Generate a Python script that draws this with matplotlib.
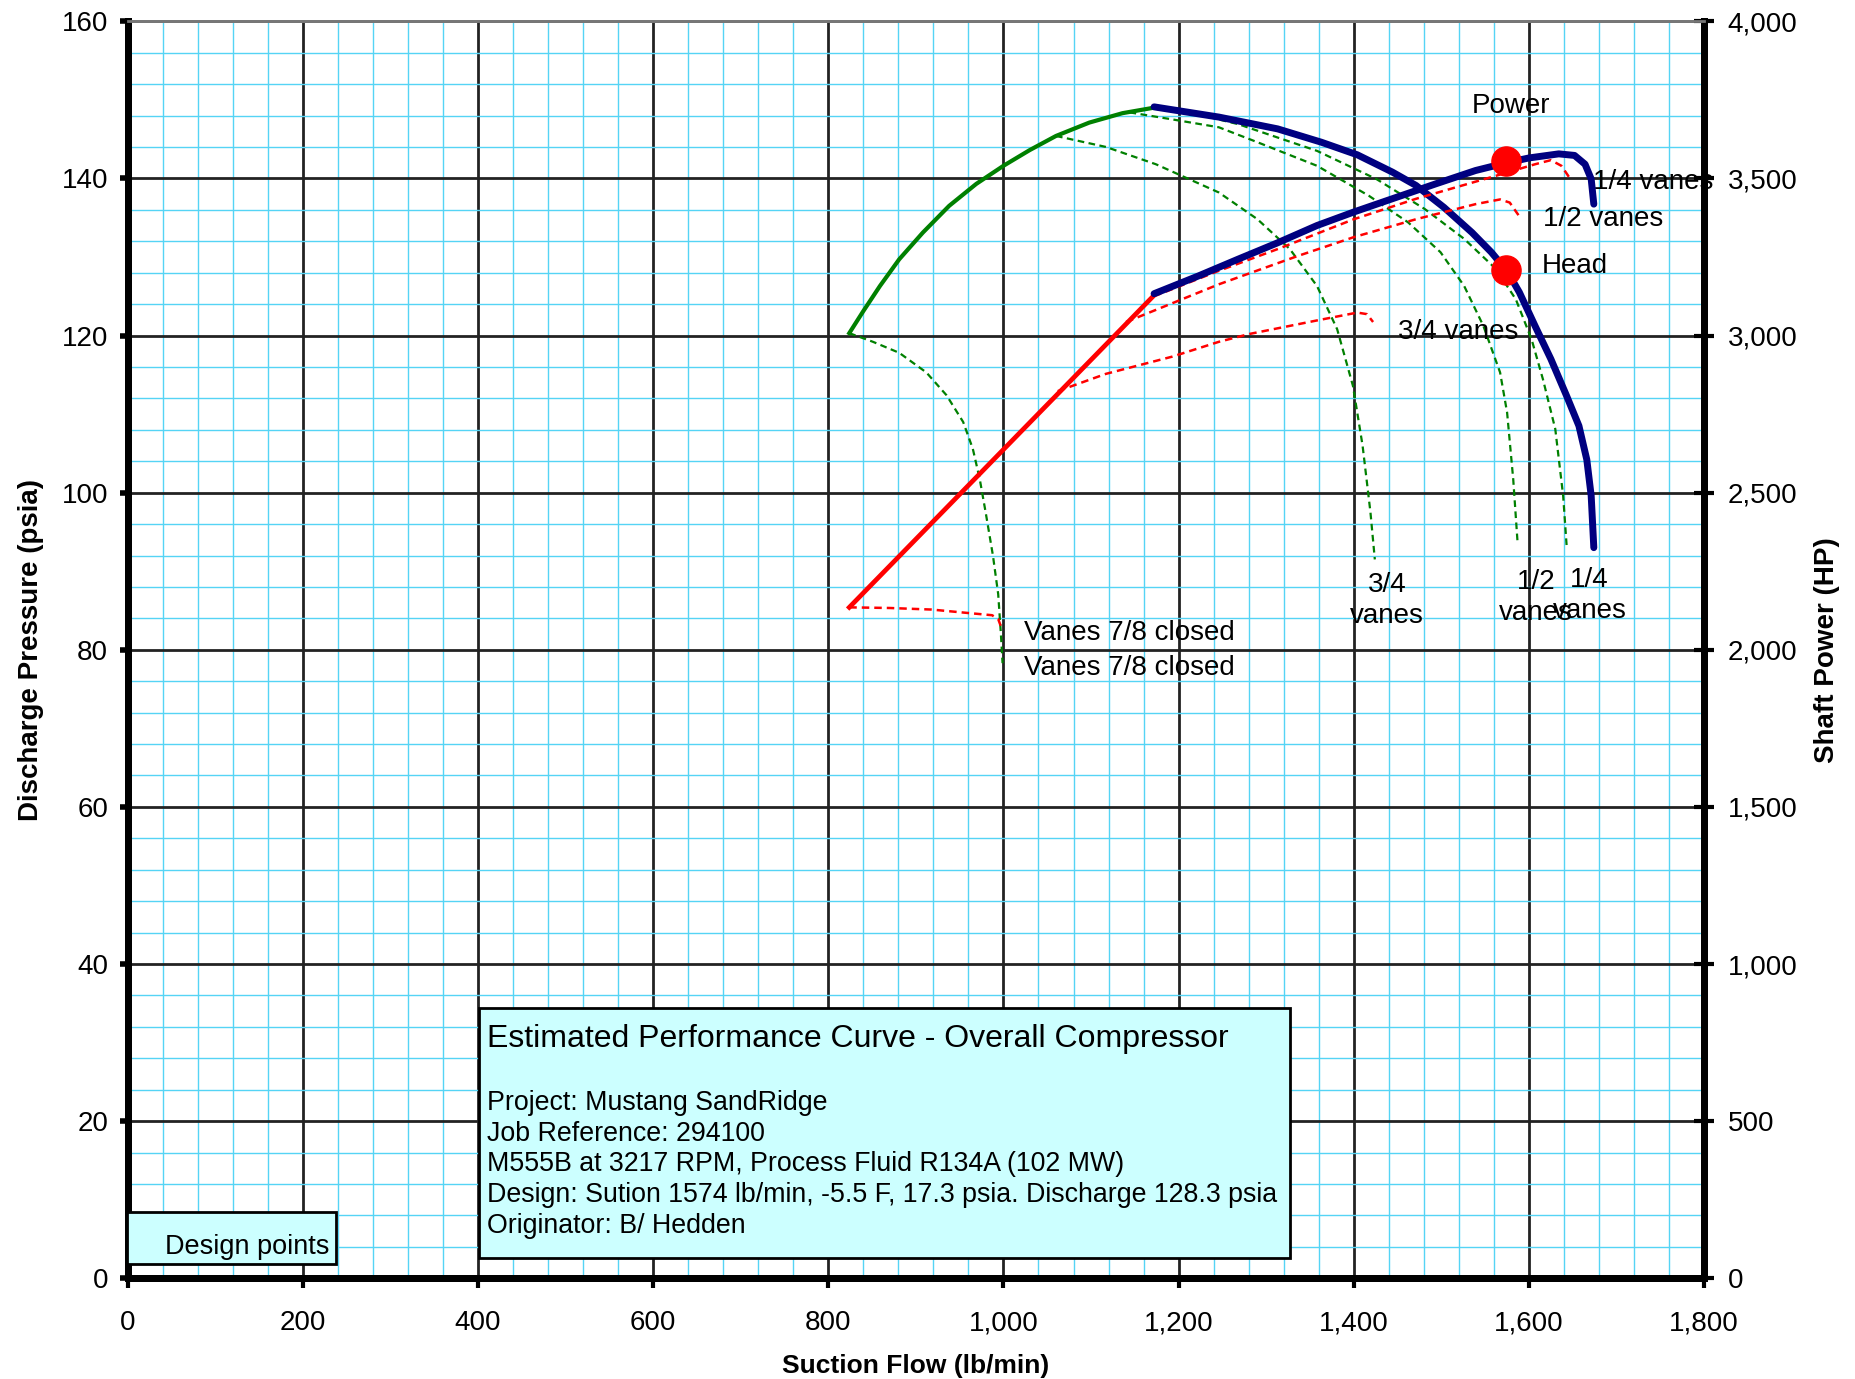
import matplotlib
matplotlib.use("Agg")
import matplotlib.pyplot as plt
from matplotlib.ticker import MultipleLocator, FuncFormatter
from matplotlib.patches import Rectangle

plt.rcParams['font.family'] = ['Liberation Sans', 'DejaVu Sans']

# head curves (left axis, psia)
head_x = [1172, 1246, 1313, 1363, 1404, 1444, 1471, 1503, 1535, 1557, 1575, 1589,
          1607, 1625, 1643, 1657, 1666, 1671, 1674]
head_y = [149.1, 147.8, 146.3, 144.6, 143.0, 140.8, 139.1, 136.3, 133.1, 130.6, 128.2, 125.5,
          121.2, 117.0, 112.3, 108.5, 104.2, 99.6, 93.0]

surge_x = [824, 840, 859, 881, 908, 938, 969, 1000, 1030, 1060, 1098, 1136, 1172]
surge_y = [120.3, 123.1, 126.3, 129.7, 133.1, 136.5, 139.3, 141.6, 143.6, 145.4, 147.1, 148.3, 149.0]

vane78_head_x = [824, 851, 881, 912, 935, 954, 965, 973, 980, 988, 994, 997, 999]
vane78_head_y = [120.3, 119.2, 117.8, 115.3, 112.4, 109.0, 105.6, 101.7, 97.3, 92.0, 87.1, 82.2, 78.3]
vane34_head_x = [1060, 1117, 1174, 1212, 1246, 1290, 1327, 1358, 1381, 1399, 1410, 1419, 1424]
vane34_head_y = [145.4, 144.0, 141.8, 139.9, 138.2, 134.8, 131.0, 126.3, 120.8, 113.6, 106.0, 97.5, 91.5]
vane12_head_x = [1144, 1193, 1246, 1290, 1358, 1417, 1462, 1499, 1526, 1548, 1567, 1575, 1582, 1587]
vane12_head_y = [148.4, 147.5, 146.5, 144.6, 141.6, 137.8, 134.4, 130.6, 126.3, 121.2, 115.3, 110.2, 101.7, 93.6]
vane14_head_x = [1172, 1231, 1268, 1358, 1426, 1481, 1526, 1562, 1585, 1603, 1616, 1630, 1639, 1643]
vane14_head_y = [148.9, 147.9, 146.9, 143.5, 139.9, 136.1, 132.3, 128.5, 124.6, 119.5, 114.4, 108.1, 99.6, 93.2]

# power curves (right axis, HP)
power_x = [1172, 1223, 1268, 1313, 1358, 1400, 1449, 1494, 1539, 1575, 1600, 1634, 1652, 1664, 1671, 1674]
power_y = [3133, 3190, 3243, 3295, 3350, 3393, 3440, 3483, 3525, 3550, 3565, 3578, 3573, 3545, 3498, 3418]

power_surge_x = [824, 1172]
power_surge_y = [2135, 3128]

vane78_pow_x = [824, 870, 918, 956, 987, 994, 997]
vane78_pow_y = [2135, 2133, 2128, 2118, 2110, 2098, 2075]
vane34_pow_x = [1062, 1117, 1193, 1246, 1281, 1358, 1404, 1415, 1422]
vane34_pow_y = [2823, 2878, 2933, 2980, 3005, 3048, 3073, 3068, 3043]
vane12_pow_x = [1140, 1193, 1246, 1268, 1336, 1400, 1471, 1539, 1567, 1578, 1588]
vane12_pow_y = [3043, 3103, 3163, 3185, 3253, 3313, 3370, 3418, 3433, 3423, 3383]
vane14_pow_x = [1172, 1245, 1313, 1400, 1471, 1562, 1607, 1625, 1637, 1646]
vane14_pow_y = [3125, 3205, 3275, 3370, 3435, 3508, 3545, 3558, 3540, 3503]

design_flow = 1574
design_head = 128.3
design_power = 3555

info_title = "Estimated Performance Curve - Overall Compressor"
info_lines = ["Project: Mustang SandRidge",
              "Job Reference: 294100",
              "M555B at 3217 RPM, Process Fluid R134A (102 MW)",
              "Design: Sution 1574 lb/min, -5.5 F, 17.3 psia. Discharge 128.3 psia",
              "Originator: B/ Hedden"]

fig = plt.figure(figsize=(18.56, 13.79), dpi=100)
ax = fig.add_axes([0.0687, 0.0730, 0.8495, 0.9116])
ax2 = ax.twinx()

ax.set_xlim(0, 1800)
ax.set_ylim(0, 160)
ax2.set_ylim(0, 4000)

ax.xaxis.set_major_locator(MultipleLocator(200))
ax.xaxis.set_minor_locator(MultipleLocator(40))
ax.yaxis.set_major_locator(MultipleLocator(20))
ax.yaxis.set_minor_locator(MultipleLocator(4))
ax2.yaxis.set_major_locator(MultipleLocator(500))

comma = FuncFormatter(lambda v, p: f"{v:,.0f}")
ax.xaxis.set_major_formatter(comma)
ax2.yaxis.set_major_formatter(comma)

ax.grid(which='minor', color='#55d4f5', lw=1.0, zorder=0)
ax.grid(which='major', color='#222222', lw=2.0, zorder=0)
ax.set_axisbelow(True)

for a in (ax, ax2):
    a.spines['top'].set_color('#777777')
    a.spines['top'].set_linewidth(2)
    a.spines['left'].set_linewidth(5)
    a.spines['bottom'].set_linewidth(5)
    a.spines['right'].set_linewidth(5)

ax.tick_params(which='minor', length=0)
ax.tick_params(axis='y', which='major', direction='out', length=6, width=4, labelsize=20, pad=8)
ax.tick_params(axis='x', which='major', direction='out', length=7, width=3, labelsize=20, pad=16)
ax2.tick_params(axis='y', which='major', direction='inout', length=14, width=3, labelsize=20, pad=10)

# head side
ax.plot(surge_x, surge_y, color='#008000', lw=3.0, zorder=3)
for xs, ys in [(vane78_head_x, vane78_head_y), (vane34_head_x, vane34_head_y),
               (vane12_head_x, vane12_head_y), (vane14_head_x, vane14_head_y)]:
    ax.plot(xs, ys, color='#008000', lw=1.6, ls=(0, (3, 2)), zorder=3)
ax.plot(head_x, head_y, color='#000080', lw=5.0, solid_capstyle='round', zorder=4)
ax.plot([design_flow], [design_head], 'o', color='#ff0000', ms=21, zorder=5)

# power side
for xs, ys in [(vane78_pow_x, vane78_pow_y), (vane34_pow_x, vane34_pow_y),
               (vane12_pow_x, vane12_pow_y), (vane14_pow_x, vane14_pow_y)]:
    ax2.plot(xs, ys, color='#ff0000', lw=1.8, ls=(0, (3, 2)), zorder=3)
ax2.plot(power_surge_x, power_surge_y, color='#ff0000', lw=3.4, zorder=3)
ax2.plot(power_x, power_y, color='#000080', lw=5.0, solid_capstyle='round', zorder=4)
ax2.plot([design_flow], [design_power], 'o', color='#ff0000', ms=21, zorder=5)

lbl = dict(fontsize=20, color='black', zorder=6, clip_on=False)
ax.text(1535, 149.2, "Power", va='center', **lbl)
ax.text(1673, 139.6, "1/4 vanes", va='center', **lbl)
ax.text(1616, 134.8, "1/2 vanes", va='center', **lbl)
ax.text(1614, 128.8, "Head", va='center', **lbl)
ax.text(1450, 120.5, "3/4 vanes", va='center', **lbl)
ax.text(1438, 86.3, "3/4\nvanes", ha='center', va='center', linespacing=1.25, **lbl)
ax.text(1608, 86.6, "1/2\nvanes", ha='center', va='center', linespacing=1.25, **lbl)
ax.text(1669, 86.9, "1/4\nvanes", ha='center', va='center', linespacing=1.25, **lbl)
ax.text(1024, 82.1, "Vanes 7/8 closed", va='center', **lbl)
ax.text(1024, 77.7, "Vanes 7/8 closed", va='center', **lbl)

# info box
ax2.add_patch(Rectangle((401, 2.56 * 25), 926, (34.35 - 2.56) * 25, facecolor='#ccffff',
                        edgecolor='black', lw=2, zorder=7))
ax2.text(410, 30.45 * 25, info_title, fontsize=23, va='center', zorder=8)
for i, line in enumerate(info_lines):
    ax2.text(410, (22.35 - i * 3.93) * 25, line, fontsize=19.3, va='center', zorder=8)

ax2.add_patch(Rectangle((-1, 1.8 * 25), 239, 6.6 * 25, facecolor='#ccffff',
                        edgecolor='black', lw=2, zorder=7, clip_on=False))
ax2.text(43, 4.0 * 25, "Design points", fontsize=19.5, va='center', zorder=8)

ax.set_xlabel("Suction Flow (lb/min)", fontsize=19, fontweight='bold', labelpad=13)
ax.set_ylabel("Discharge Pressure (psia)", fontsize=20, fontweight='bold', labelpad=13)
ax2.set_ylabel("Shaft Power (HP)", fontsize=20, fontweight='bold', labelpad=12)

fig.savefig("out.png", dpi=100)
